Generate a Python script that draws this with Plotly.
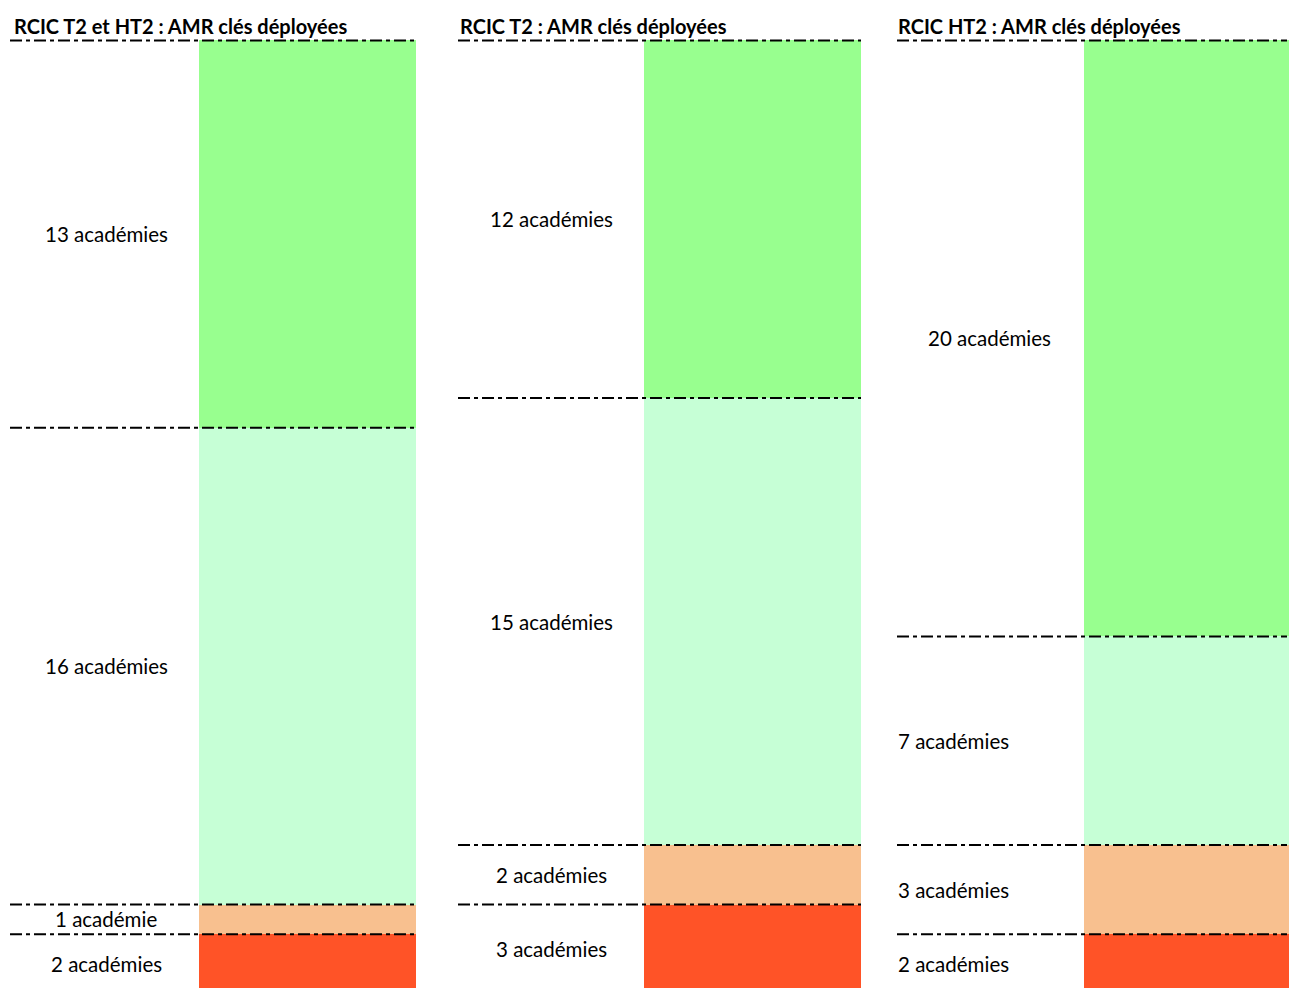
import plotly.graph_objects as go

titles = ["RCIC T2 et HT2 : AMR clés déployées",
          "RCIC T2 : AMR clés déployées",
          "RCIC HT2 : AMR clés déployées"]
# stacked from bottom to top: red, orange, light green, green
red_vals = [2, 3, 2]
orange_vals = [1, 2, 3]
light_vals = [16, 15, 7]
green_vals = [13, 12, 20]
labels = [
    ["2 académies", "1 académie", "16 académies", "13 académies"],
    ["3 académies", "2 académies", "15 académies", "12 académies"],
    ["2 académies", "3 académies", "7 académies", "20 académies"],
]
colors = ["#FF5327", "#F8C08F", "#C6FFD6", "#98FF8F"]

W, H = 1289, 989
# panel geometry in screen pixels
panel_left = [10, 458, 897]
panel_right = [416, 861, 1289]
bar_left = [199, 644, 1084]
bar_width = 217
title_left = [14, 460, 898]
label_x = [[106, 106, 106, 106], [551, 551, 551, 551], [898, 898, 898, 989]]
label_anchor = [["center"] * 4, ["center"] * 4, ["left", "left", "left", "center"]]

FONT = "Lato, 'Open Sans', sans-serif"
fig = go.Figure()
shapes = []
annotations = []
for i in range(3):
    ax = "" if i == 0 else str(i + 1)
    xname = "x" + ax
    yname = "y" + ax
    pl = panel_left[i]
    pr = min(panel_right[i], W)
    pw = pr - pl
    series = [red_vals[i], orange_vals[i], light_vals[i], green_vals[i]]
    cx = bar_left[i] - panel_left[i] + bar_width / 2
    for v, c in zip(series, colors):
        fig.add_trace(go.Bar(x=[cx], y=[v], width=bar_width, marker=dict(color=c, line=dict(width=0)),
                             xaxis=xname, yaxis=yname, showlegend=False, hoverinfo="skip"))
    cum = 0
    bounds = []
    mids = []
    for v in series:
        mids.append(cum + v / 2)
        cum += v
        bounds.append(cum)
    for b in bounds:
        shapes.append(dict(type="line", xref=xname, yref=yname,
                           x0=0, x1=(bar_left[i] - panel_left[i] + bar_width) if i < 2 else pw - 2,
                           y0=b, y1=b, line=dict(color="black", width=2, dash="12px,4px,4px,4px"),
                           layer="above"))
    for k, (m, t) in enumerate(zip(mids, labels[i])):
        sx = label_x[i][k] - (2 if label_anchor[i][k] == "left" else 0)
        annotations.append(dict(xref="paper", yref=yname, x=sx / W, y=m, text=t,
                                showarrow=False, xanchor=label_anchor[i][k], yanchor="middle",
                                font=dict(family=FONT, size=20.5, color="black")))
    annotations.append(dict(xref="paper", yref="paper", x=(title_left[i] - 2) / W, y=1.0,
                            yshift=13, text="<b>" + titles[i] + "</b>", showarrow=False,
                            xanchor="left", yanchor="middle",
                            font=dict(family=FONT, size=20, color="black")))
    fig.update_layout(**{
        "xaxis" + ax: dict(domain=[pl / W, pr / W], range=[0, pw],
                            visible=False, fixedrange=True),
        "yaxis" + ax: dict(range=[0.2, 32.05], visible=False, fixedrange=True,
                            anchor=xname),
    })
    if i > 0:
        fig.layout["xaxis" + ax].anchor = yname

fig.update_layout(barmode="stack", bargap=0, width=W, height=H,
                  margin=dict(l=0, r=0, t=39, b=1),
                  plot_bgcolor="white", paper_bgcolor="white",
                  shapes=shapes, annotations=annotations)
fig.write_html("out.html", config={"displayModeBar": False},
               post_script="document.body.style.margin='0';document.body.style.overflow='hidden';")
